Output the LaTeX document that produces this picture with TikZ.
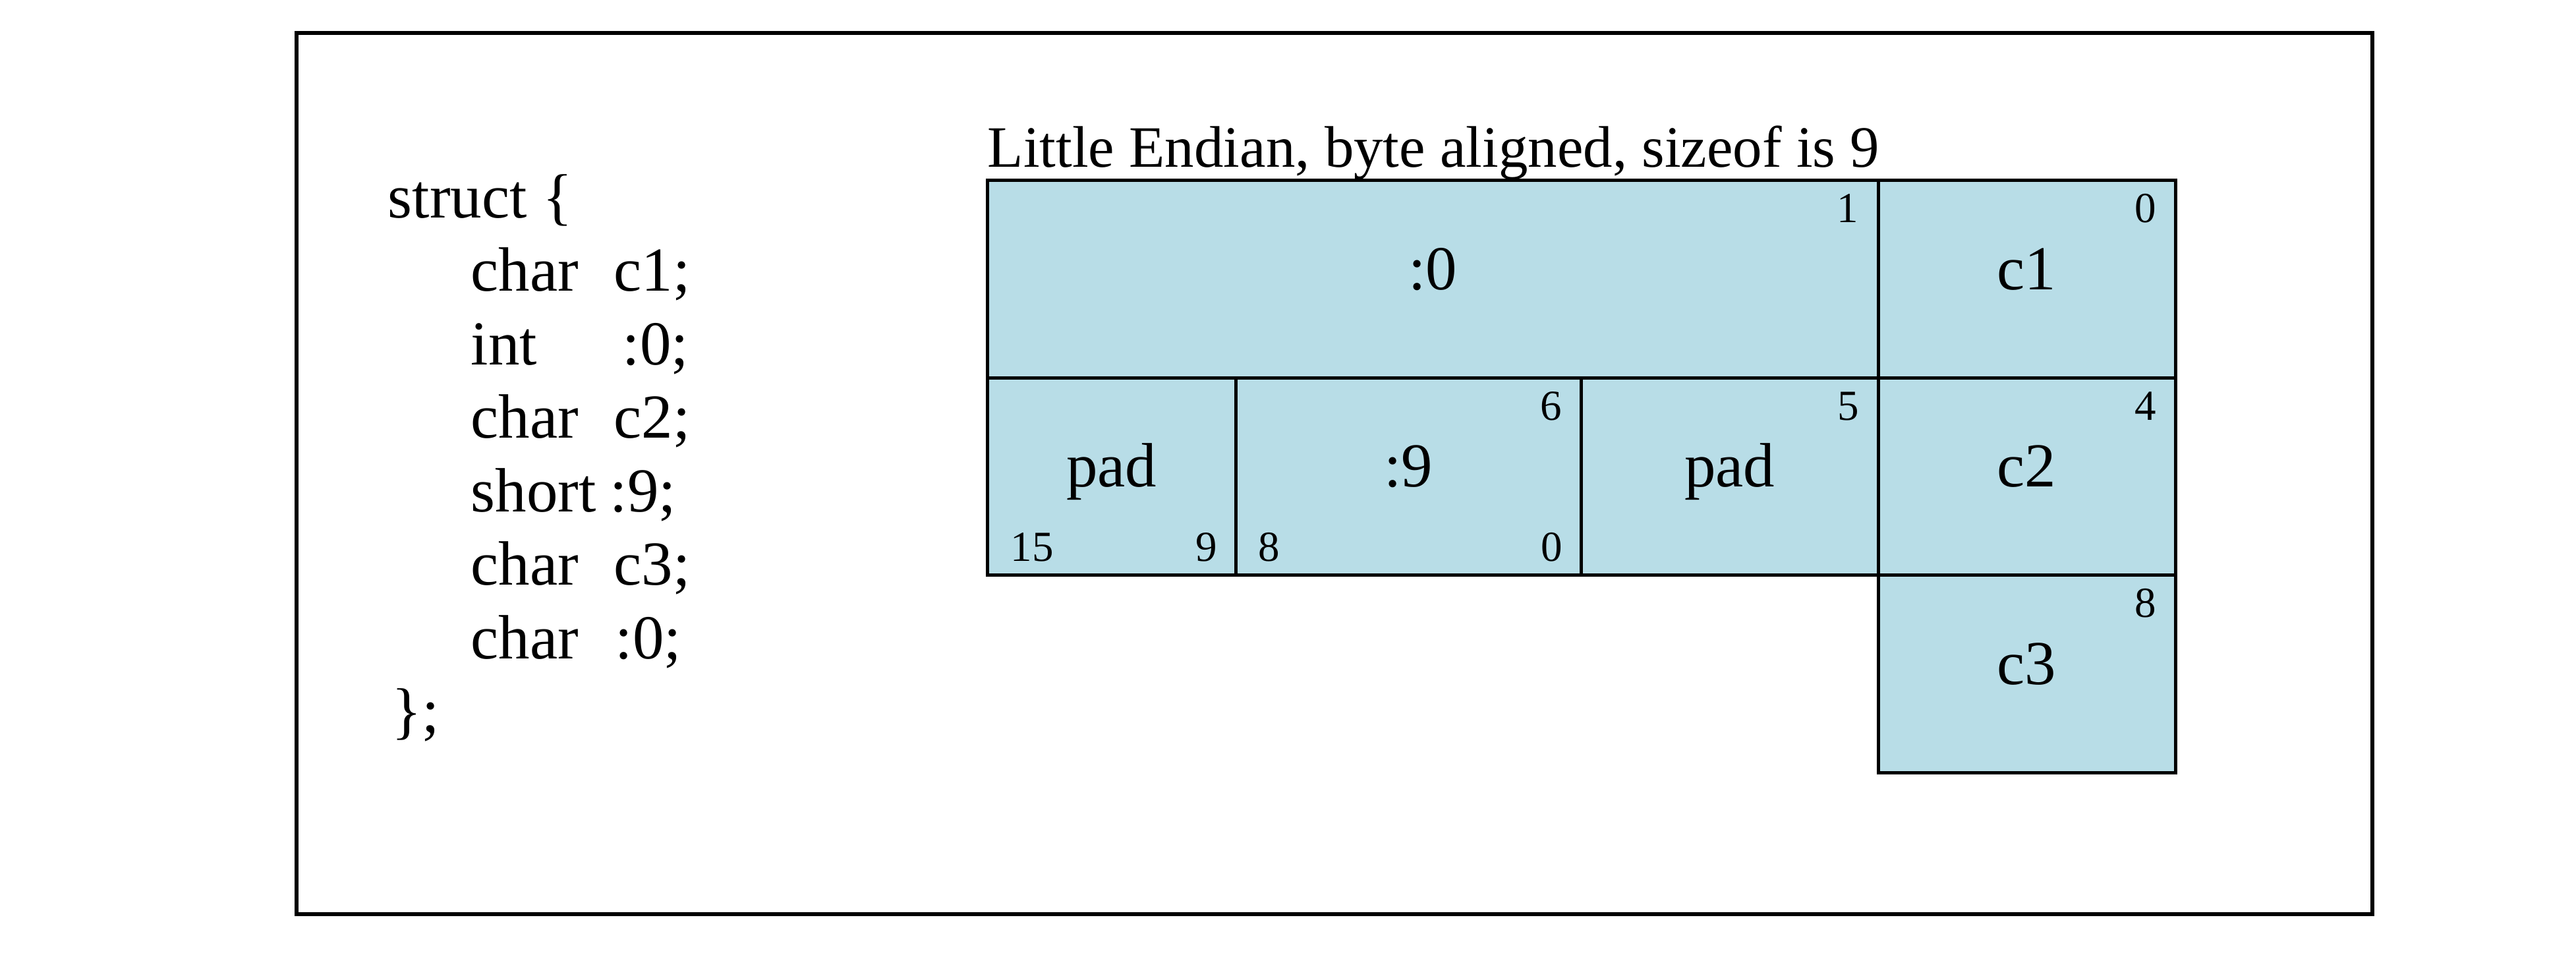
\documentclass[tikz,border=0pt]{standalone}
\usepackage{fontspec}
\setmainfont{Liberation Serif}
\definecolor{cellblue}{RGB}{184,221,231}
\begin{document}
\begin{tikzpicture}[
  cell/.style={draw, fill=cellblue, line width=0.05cm, inner sep=0pt, outer sep=0pt, minimum height=2.995cm},
  lab/.style={font=\fontsize{27}{32}\selectfont, anchor=base, inner sep=0pt},
  num/.style={font=\fontsize{18.5}{22}\selectfont, inner sep=0pt},
  code/.style={font=\fontsize{27}{32}\selectfont, anchor=base west, inner sep=0pt},
  ttl/.style={font=\fontsize{25.3}{30}\selectfont, anchor=base west, inner sep=0pt}
]
\useasboundingbox[fill=white] (0,0) rectangle (39.09,-14.51);
% outer frame
\draw[line width=0.06cm] (4.50,-0.50) rectangle (36.00,-13.87);

% code
\node[code] (l0) at (5.88,-3.30) {struct \{};
\node[code] (l1a) at (7.14,-4.415) {char};
\node[code] (l1b) at (9.31,-4.415) {c1;};
\node[code] (l2a) at (7.14,-5.53) {int};
\node[code] (l2b) at (9.44,-5.53) {:0;};
\node[code] (l3a) at (7.14,-6.645) {char};
\node[code] (l3b) at (9.31,-6.645) {c2;};
\node[code] (l4a) at (7.14,-7.76) {short};
\node[code] (l4b) at (9.25,-7.76) {:9;};
\node[code] (l5a) at (7.14,-8.875) {char};
\node[code] (l5b) at (9.31,-8.875) {c3;};
\node[code] (l6a) at (7.14,-9.99) {char};
\node[code] (l6b) at (9.33,-9.99) {:0;};
\node[code] (l7) at (5.94,-11.105) {\};};

% title
\node[ttl] (title) at (14.98,-2.53) {Little Endian, byte aligned, sizeof is 9};

% cells
\node[cell, minimum width=13.52cm] (z0) at (21.74,-4.2325) {};
\node[cell, minimum width=4.51cm] (c1) at (30.755,-4.2325) {};
\node[cell, minimum width=3.77cm] (p1) at (16.865,-7.2275) {};
\node[cell, minimum width=5.24cm] (n9) at (21.37,-7.2275) {};
\node[cell, minimum width=4.51cm] (p2) at (26.245,-7.2275) {};
\node[cell, minimum width=4.51cm] (c2) at (30.755,-7.2275) {};
\node[cell, minimum width=4.51cm] (c3) at (30.755,-10.2225) {};

% labels
\node[lab] (z0t) at ([yshift=-0.16cm]z0.center) {:0};
\node[lab] (c1t) at ([yshift=-0.16cm]c1.center) {c1};
\node[lab] (p1t) at ([yshift=-0.16cm]p1.center) {pad};
\node[lab] (n9t) at ([yshift=-0.16cm]n9.center) {:9};
\node[lab] (p2t) at ([yshift=-0.16cm]p2.center) {pad};
\node[lab] (c2t) at ([yshift=-0.16cm]c2.center) {c2};
\node[lab] (c3t) at ([yshift=-0.16cm]c3.center) {c3};

% bit/byte numbers
\node[num, anchor=base east] (z0n) at ([xshift=-0.29cm,yshift=-0.64cm]z0.north east) {1};
\node[num, anchor=base east] (c1n) at ([xshift=-0.28cm,yshift=-0.64cm]c1.north east) {0};
\node[num, anchor=base east] (n9n) at ([xshift=-0.28cm,yshift=-0.64cm]n9.north east) {6};
\node[num, anchor=base east] (p2n) at ([xshift=-0.28cm,yshift=-0.64cm]p2.north east) {5};
\node[num, anchor=base east] (c2n) at ([xshift=-0.28cm,yshift=-0.64cm]c2.north east) {4};
\node[num, anchor=base east] (c3n) at ([xshift=-0.28cm,yshift=-0.64cm]c3.north east) {8};
\node[num, anchor=base west] (p1l) at ([xshift=0.35cm,yshift=0.21cm]p1.south west) {15};
\node[num, anchor=base east] (p1r) at ([xshift=-0.27cm,yshift=0.21cm]p1.south east) {9};
\node[num, anchor=base west] (n9l) at ([xshift=0.34cm,yshift=0.21cm]n9.south west) {8};
\node[num, anchor=base east] (n9r) at ([xshift=-0.27cm,yshift=0.21cm]n9.south east) {0};
\end{tikzpicture}
\end{document}
